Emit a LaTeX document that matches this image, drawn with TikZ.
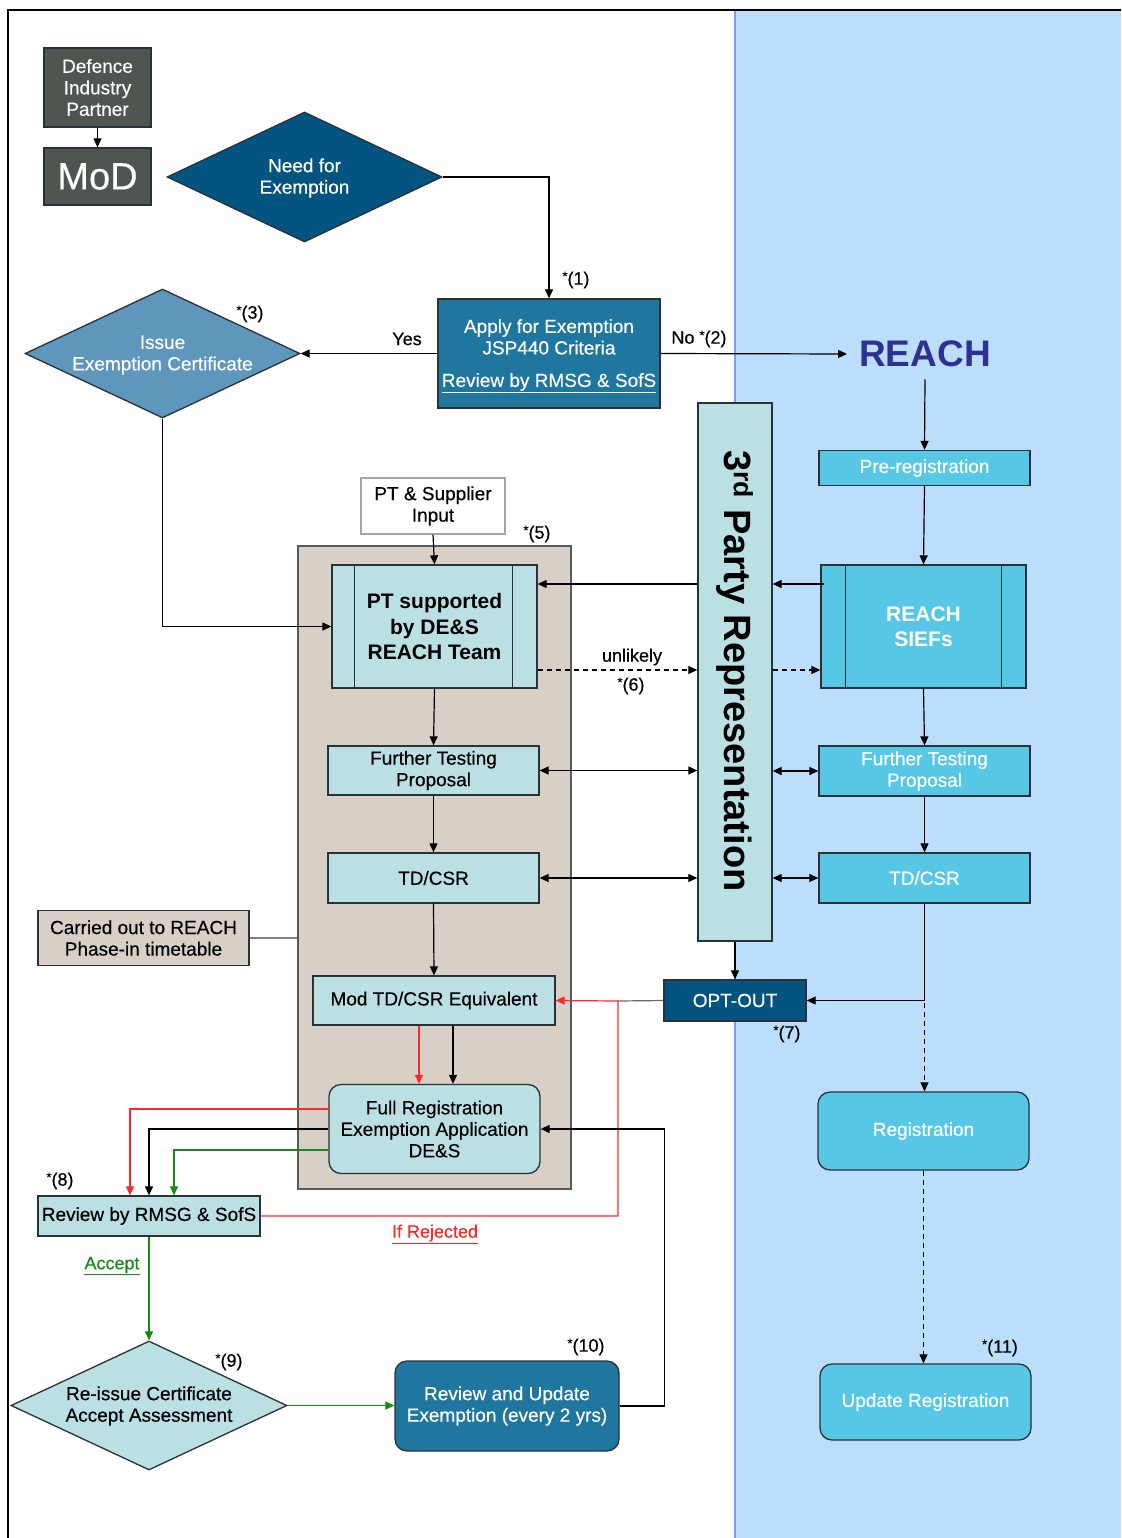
\documentclass[tikz,border=0pt]{standalone}
\usepackage{fontspec}
\setmainfont{Liberation Sans}[UprightFeatures={FakeBold=0.4}]
\usetikzlibrary{arrows.meta,shapes.geometric,calc}
\definecolor{dgrey}{RGB}{79,86,80}
\definecolor{navy}{RGB}{3,84,128}
\definecolor{midblue}{RGB}{31,119,160}
\definecolor{issueblue}{RGB}{95,150,187}
\definecolor{lteal}{RGB}{186,224,228}
\definecolor{cyanb}{RGB}{86,200,229}
\definecolor{beige}{RGB}{216,207,199}
\definecolor{bgblue}{RGB}{187,222,252}
\definecolor{edgeblue}{RGB}{124,156,245}
\definecolor{reachc}{RGB}{46,49,146}
\definecolor{redl}{RGB}{255,40,40}
\definecolor{greenl}{RGB}{20,140,20}
\definecolor{bord}{RGB}{40,50,55}
\newcommand\stm{\raisebox{4pt}{\fontsize{13}{13}\selectfont *}}
\begin{document}
\begin{tikzpicture}[x=1pt,y=-1pt,
  box/.style={draw=bord, line width=1.3pt, inner sep=0pt, align=center, font=\fontsize{19}{21.5}\selectfont},
  txt/.style={inner sep=0pt, align=center, font=\fontsize{19}{21.5}\selectfont},
  sz/.style 2 args={minimum width=#1pt, minimum height=#2pt},
  arr/.style={-{Triangle[length=9pt,width=8pt]}, line width=1.2pt},
  darr/.style={{Triangle[length=9pt,width=8pt]}-{Triangle[length=9pt,width=8pt]}, line width=1.2pt},
  dsh/.style={dashed, dash pattern=on 5pt off 4pt},
  lbl/.style={font=\fontsize{18}{20}\selectfont, inner sep=0pt}]
\useasboundingbox (0,0) rectangle (1121,1538);
% background
\fill[bgblue] (735,11) rectangle (1121,1538);
\draw[edgeblue, line width=1.5pt] (735,11) -- (735,1538);
\draw[line width=2pt] (8,1538) -- (8,10) -- (1121,10);
% helper levels
\coordinate (y584) at (0,584);
\coordinate (y670) at (0,670);
\coordinate (y1109) at (0,1109);
\coordinate (y1150) at (0,1150);
\coordinate (rj) at (618,1001);
% nodes
\node[box, fill=dgrey, text=white, sz={107}{79}] (dip) at (97.5,87.5) {Defence\\Industry\\Partner};
\node[box, fill=dgrey, text=white, sz={107}{57}, font=\fontsize{38}{40}\selectfont] (mod) at (97.5,176.5) {MoD};
\node[box, diamond, fill=navy, sz={275}{130}] (need) at (304.5,177) {};
\node[txt, text=white] (needtxt) at (304.5,178) {Need for\\Exemption};
\node[box, fill=midblue, text=white, sz={222}{109}] (apply) at (549,353.5) {};
\node[txt, text=white] (applytxt) at (549,356) {Apply for Exemption\\JSP440 Criteria\\[11pt]\underline{Review by RMSG \& SofS}};
\node[font=\fontsize{37}{40}\selectfont\bfseries, text=reachc, inner sep=12pt] (reach) at (925,354) {REACH};
\node[box, diamond, fill=issueblue, sz={275}{129}] (issue) at (162.5,353.5) {};
\node[txt, text=white] (issuetxt) at (162.5,355) {Issue\\Exemption Certificate};
\node[box, fill=white, draw=gray!70, sz={144}{56}] (ptin) at (433,506) {PT \& Supplier\\Input};
\node[box, fill=beige, draw=bord!80, sz={273}{643}] (cont) at (434.5,867.5) {};
\node[box, fill=lteal, sz={205}{123}, font=\fontsize{21}{25.5}\selectfont\bfseries] (pt) at (434.5,626.5) {PT supported\\by DE\&S\\REACH Team};
\draw[bord, line width=1.3pt] ([xshift=23pt]pt.north west) -- ([xshift=23pt]pt.south west);
\draw[bord, line width=1.3pt] ([xshift=-25pt]pt.north east) -- ([xshift=-25pt]pt.south east);
\node[box, fill=lteal, sz={74}{538}] (third) at (735,672) {};
\node[rotate=-90, font=\fontsize{38}{40}\selectfont\bfseries, inner sep=0pt] (thirdtxt) at (735,671) {3\textsuperscript{rd} Party Representation};
\node[box, fill=cyanb, text=white, sz={211}{35}] (prereg) at (924.5,468) {Pre-registration};
\node[box, fill=cyanb, text=white, sz={205}{123}, font=\fontsize{21}{25}\selectfont\bfseries] (siefs) at (923.5,626.5) {REACH\\SIEFs};
\draw[bord, line width=1.3pt] ([xshift=25pt]siefs.north west) -- ([xshift=25pt]siefs.south west);
\draw[bord, line width=1.3pt] ([xshift=-25pt]siefs.north east) -- ([xshift=-25pt]siefs.south east);
\node[box, fill=lteal, sz={211}{49}] (ftl) at (433.5,770.5) {Further Testing\\Proposal};
\node[box, fill=cyanb, text=white, sz={211}{50}] (ftr) at (924.5,771) {Further Testing\\Proposal};
\node[box, fill=lteal, sz={211}{50}] (tdl) at (433.5,878) {TD/CSR};
\node[box, fill=cyanb, text=white, sz={211}{50}] (tdr) at (924.5,878) {TD/CSR};
\node[box, fill=beige, sz={211}{55}] (carried) at (143.5,938) {Carried out to REACH\\Phase-in timetable};
\node[box, fill=lteal, sz={242}{49}] (modtd) at (434,1000.5) {Mod TD/CSR Equivalent};
\node[box, fill=navy, text=white, sz={142}{41}] (opt) at (735,1000.5) {OPT-OUT};
\node[box, fill=lteal, rounded corners=12pt, sz={211}{89}] (full) at (434.5,1129) {Full Registration\\Exemption Application\\DE\&S};
\node[box, fill=lteal, sz={222}{40}] (review) at (149,1216) {Review by RMSG \& SofS};
\node[box, diamond, fill=lteal, sz={276}{129}] (reissue) at (149,1405.5) {};
\node[txt] (reissuetxt) at (149,1406) {Re-issue Certificate\\Accept Assessment};
\node[box, fill=midblue, text=white, rounded corners=12pt, sz={224}{90}] (rau) at (507,1406) {Review and Update\\Exemption (every 2 yrs)};
\node[box, fill=cyanb, text=white, rounded corners=12pt, sz={211}{78}] (reg) at (923.5,1131) {Registration};
\node[box, fill=cyanb, text=white, rounded corners=12pt, sz={211}{76}] (upd) at (925.5,1402) {Update Registration};
% labels
\node[lbl] (l1) at (576,280) {\stm(1)};
\node[lbl] (lyes) at (407,339) {Yes};
\node[lbl] (lno) at (699,339) {No \stm(2)};
\node[lbl] (l3) at (250,314) {\stm(3)};
\node[lbl] (l5) at (537,534) {\stm(5)};
\node[lbl] (lunl) at (632,657) {unlikely};
\node[lbl] (l6) at (631,686) {\stm(6)};
\node[lbl] (l7) at (787,1034) {\stm(7)};
\node[lbl] (l8) at (60,1181) {\stm(8)};
\node[lbl, text=redl] (lrej) at (435,1234) {\underline{If Rejected}};
\node[lbl, text=greenl] (lacc) at (112,1266) {\underline{Accept}};
\node[lbl] (l9) at (229,1362) {\stm(9)};
\node[lbl] (l10) at (586,1347) {\stm(10)};
\node[lbl] (l11) at (1000,1348) {\stm(11)};
% connectors
\draw[arr] (dip.south) -- (mod.north);
\draw[arr] (need.east) -| (apply.north);
\draw[arr] (apply.west) -- (issue.east);
\draw[arr] (apply.east) -- (reach.west);
\draw[arr] (reach.south) -- (prereg.north);
\draw[arr] (prereg.south) -- (siefs.north);
\draw[arr] (issue.south) |- (pt.west);
\draw[arr] (ptin.south) -- (pt.north);
\draw[arr] (third.west |- y584) -- (pt.east |- y584);
\draw[arr, dsh] (pt.east |- y670) -- (third.west |- y670);
\draw[arr] ([xshift=4pt]siefs.west |- y584) -- (third.east |- y584);
\draw[arr, dsh] (third.east |- y670) -- (siefs.west |- y670);
\draw[arr] (pt.south) -- (ftl.north);
\draw[darr] (ftl.east) -- (third.west |- ftl.east);
\draw[darr] (third.east |- ftr.west) -- (ftr.west);
\draw[arr] (siefs.south) -- (ftr.north);
\draw[arr] (ftl.south) -- (tdl.north);
\draw[darr] (tdl.east) -- (third.west |- tdl.east);
\draw[darr] (third.east |- tdr.west) -- (tdr.west);
\draw[arr] (ftr.south) -- (tdr.north);
\draw[gray, line width=1.3pt] (carried.east) -- (cont.west |- carried.east);
\draw[arr] (tdl.south) -- (modtd.north);
\draw[arr] (third.south) -- (opt.north);
\draw[arr, dsh] (tdr.south) -- (tdr.south |- reg.north);
\draw[arr] (tdr.south) |- (opt.east);
\draw[gray!80!black, line width=1.2pt] (opt.west) -- (rj);
\draw[arr, redl] (review.east) -| (rj) -- (modtd.east);
\draw[arr, redl] ([xshift=-15pt]modtd.south) -- ([xshift=-15pt]modtd.south |- full.north);
\draw[arr] ([xshift=19pt]modtd.south) -- ([xshift=19pt]modtd.south |- full.north);
\draw[arr, redl] (full.west |- y1109) -| ([xshift=-19pt]review.north);
\draw[arr] (full.west) -| (review.north);
\draw[arr, greenl] (full.west |- y1150) -| ([xshift=25pt]review.north);
\draw[arr, greenl] (review.south) -- (reissue.north);
\draw[arr, greenl] (reissue.east) -- (rau.west |- reissue.east);
\draw[arr] (rau.east) -- ++(45,0) |- (full.east);
\draw[arr, dsh] (reg.south) -- (reg.south |- upd.north);
\end{tikzpicture}
\end{document}
